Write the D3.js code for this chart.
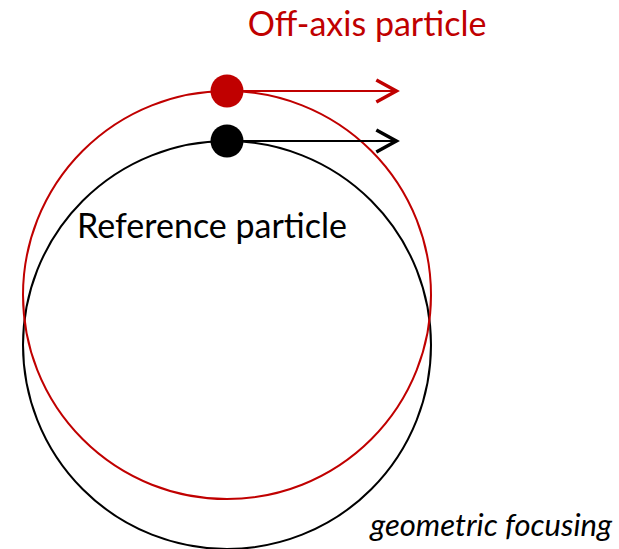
<!DOCTYPE html>
<html lang="en">
<head>
  <meta charset="UTF-8" />
  <title>Geometric focusing</title>
  <script src="https://cdnjs.cloudflare.com/ajax/libs/d3/7.8.5/d3.min.js"></script>
  <style>
    body {
      margin: 0;
      background: #fff;
    }
    svg {
      display: block;
      font-family: Lato, sans-serif;
    }
  </style>
</head>
<body>
  <svg id="chart" width="619" height="549"></svg>

  <script>
    // orbits in units of the orbit radius, reference orbit centred at 0
    const particles = ["Reference particle", "Off-axis particle"];
    const centerOffsets = [0, 0.245];
    const colors = ["#000000", "#c00000"];
    const arrowEnd = 0.83;
    const focusLabel = "geometric focusing";

    const width = 619, height = 549;
    const R = 204;

    const x = d3.scaleLinear().domain([-1, 1]).range([227 - R, 227 + R]);
    const y = d3.scaleLinear().domain([-1, 1]).range([345 + R, 345 - R]);

    const svg = d3.select("#chart");

    const data = particles.map((name, i) => ({
      name: name,
      offset: centerOffsets[i],
      color: colors[i]
    }));

    // orbits
    svg.selectAll("circle.orbit")
      .data(data)
      .enter().append("circle")
      .attr("class", "orbit")
      .attr("cx", x(0))
      .attr("cy", d => y(d.offset))
      .attr("r", x(1) - x(0))
      .attr("fill", "none")
      .attr("stroke", d => d.color)
      .attr("stroke-width", 2);

    // velocity arrows
    const tipX = x(arrowEnd);
    svg.selectAll("line.vel")
      .data(data)
      .enter().append("line")
      .attr("class", "vel")
      .attr("x1", x(0))
      .attr("x2", tipX - 3)
      .attr("y1", d => y(d.offset + 1))
      .attr("y2", d => y(d.offset + 1))
      .attr("stroke", d => d.color)
      .attr("stroke-width", 2);

    svg.selectAll("path.head")
      .data(data)
      .enter().append("path")
      .attr("class", "head")
      .attr("d", d => {
        const yy = y(d.offset + 1);
        return `M${tipX - 20},${yy - 11} L${tipX},${yy} L${tipX - 20},${yy + 11}`;
      })
      .attr("fill", "none")
      .attr("stroke", d => d.color)
      .attr("stroke-width", 3.5);

    // particles
    svg.selectAll("circle.particle")
      .data(data)
      .enter().append("circle")
      .attr("class", "particle")
      .attr("cx", x(0))
      .attr("cy", d => y(d.offset + 1))
      .attr("r", 16.5)
      .attr("fill", d => d.color);

    // labels
    svg.append("text")
      .attr("x", 367)
      .attr("y", 36)
      .attr("text-anchor", "middle")
      .attr("font-size", 34)
      .attr("fill", colors[1])
      .text(particles[1]);

    svg.append("text")
      .attr("x", 212)
      .attr("y", 238)
      .attr("text-anchor", "middle")
      .attr("font-size", 34)
      .attr("fill", colors[0])
      .text(particles[0]);

    svg.append("text")
      .attr("x", 612)
      .attr("y", 536)
      .attr("text-anchor", "end")
      .attr("font-size", 31)
      .attr("font-style", "italic")
      .attr("fill", "#000")
      .text(focusLabel);
  </script>
</body>
</html>
